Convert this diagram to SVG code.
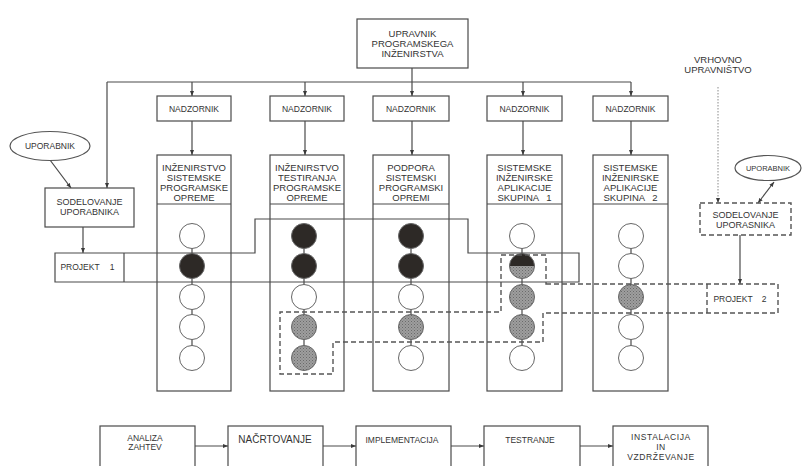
<svg xmlns="http://www.w3.org/2000/svg" width="803" height="466" viewBox="0 0 803 466">
  <defs>
    <marker id="ah" viewBox="0 0 10 10" refX="10" refY="5" markerWidth="5" markerHeight="5" orient="auto-start-reverse" markerUnits="userSpaceOnUse">
      <path d="M0,1 L10,5 L0,9 z" fill="#3a3a3a"/>
    </marker>
    <pattern id="stip" width="3" height="3" patternUnits="userSpaceOnUse">
      <rect width="3" height="3" fill="#9e9e9e"/>
      <rect x="0" y="0" width="1" height="1" fill="#6a6a6a"/>
      <rect x="1.5" y="1.5" width="1" height="1" fill="#787878"/>
    </pattern>
    <style>
      .box { fill: #fff; stroke: #4a4a4a; stroke-width: 1.2; }
      .ln { fill: none; stroke: #4a4a4a; stroke-width: 1.2; }
      .dash { fill: none; stroke: #555; stroke-width: 1.4; stroke-dasharray: 5 3; }
      .dot { fill: none; stroke: #8a8a8a; stroke-width: 1; stroke-dasharray: 1.5 1.5; }
      .arr { marker-end: url(#ah); }
      .t { font-family: "Liberation Sans", "DejaVu Sans", sans-serif; fill: #333; text-anchor: middle; }
      .h { font-size: 9.5px; }
      .s { font-size: 8.5px; }
      .c { stroke: #666; stroke-width: 1; }
      .w { fill: #fff; }
      .k { fill: #2d2926; }
      .g { fill: url(#stip); }
    </style>
  </defs>

  <rect width="803" height="466" fill="#fff"/>

  <!-- connectors -->
  <g id="connectors">
    <path class="ln" d="M107,82 H631"/>
    <path class="ln arr" d="M412,68 V96"/>
    <path class="ln arr" d="M192,82 V96"/>
    <path class="ln arr" d="M305,82 V96"/>
    <path class="ln arr" d="M523,82 V96"/>
    <path class="ln arr" d="M631,82 V96"/>
    <path class="ln arr" d="M107,82 V188"/>
    <path class="ln arr" d="M192,121 V155"/>
    <path class="ln arr" d="M305,121 V155"/>
    <path class="ln arr" d="M412,121 V155"/>
    <path class="ln arr" d="M523,121 V155"/>
    <path class="ln arr" d="M631,121 V155"/>
    <path class="ln arr" d="M50,160 L71,188"/>
    <path class="ln arr" d="M83,227 V253"/>
    <path class="dot arr" d="M718,87 V203"/>
    <path class="ln arr" d="M774,182 L758,203" style="marker-start:url(#ah)"/>
    <path class="ln arr" d="M740,235 V284"/>
    <path class="ln arr" d="M195,446 H228"/>
    <path class="ln arr" d="M323,446 H356"/>
    <path class="ln arr" d="M451,446 H484"/>
    <path class="ln arr" d="M580,446 H613"/>
  </g>

  <!-- head of software engineering -->
  <g id="upravnik">
    <rect class="box" x="357" y="19" width="111" height="49"/>
    <text class="t h" x="412.5" y="36.5">UPRAVNIK</text>
    <text class="t h" x="412.5" y="46.5">PROGRAMSKEGA</text>
    <text class="t h" x="412.5" y="56.5">INŽENIRSTVA</text>
  </g>

  <!-- supervisors -->
  <g id="nadzornik-1"><rect class="box" x="157" y="96" width="74" height="25"/><text class="t s" x="194" y="111.5">NADZORNIK</text></g>
  <g id="nadzornik-2"><rect class="box" x="270" y="96" width="74" height="25"/><text class="t s" x="307" y="111.5">NADZORNIK</text></g>
  <g id="nadzornik-3"><rect class="box" x="373" y="96" width="76" height="25"/><text class="t s" x="411" y="111.5">NADZORNIK</text></g>
  <g id="nadzornik-4"><rect class="box" x="487" y="96" width="75" height="25"/><text class="t s" x="524.5" y="111.5">NADZORNIK</text></g>
  <g id="nadzornik-5"><rect class="box" x="593" y="96" width="75" height="25"/><text class="t s" x="630.5" y="111.5">NADZORNIK</text></g>

  <!-- departments -->
  <g id="oddelek-1">
    <rect class="box" x="157" y="155" width="74" height="236"/>
    <path class="ln" d="M157,204 H231"/>
    <text class="t h" x="194" y="171">INŽENIRSTVO</text>
    <text class="t h" x="194" y="181">SISTEMSKE</text>
    <text class="t h" x="194" y="191">PROGRAMSKE</text>
    <text class="t h" x="194" y="201">OPREME</text>
    <path class="ln" d="M192,236 V358"/>
    <circle class="c w" cx="192" cy="236" r="12.5"/>
    <circle class="c k" cx="192" cy="266" r="12.5"/>
    <circle class="c w" cx="192" cy="297" r="12.5"/>
    <circle class="c w" cx="192" cy="327" r="12.5"/>
    <circle class="c w" cx="192" cy="358" r="12.5"/>
  </g>
  <g id="oddelek-2">
    <rect class="box" x="270" y="155" width="74" height="236"/>
    <path class="ln" d="M270,204 H344"/>
    <text class="t h" x="307" y="171">INŽENIRSTVO</text>
    <text class="t h" x="307" y="181">TESTIRANJA</text>
    <text class="t h" x="307" y="191">PROGRAMSKE</text>
    <text class="t h" x="307" y="201">OPREME</text>
    <path class="ln" d="M304,236 V358"/>
    <circle class="c k" cx="304" cy="236" r="12.5"/>
    <circle class="c k" cx="304" cy="266" r="12.5"/>
    <circle class="c w" cx="304" cy="297" r="12.5"/>
    <circle class="c g" cx="304" cy="327" r="12.5"/>
    <circle class="c g" cx="304" cy="358" r="12.5"/>
  </g>
  <g id="oddelek-3">
    <rect class="box" x="373" y="155" width="76" height="236"/>
    <path class="ln" d="M373,204 H449"/>
    <text class="t h" x="411" y="171">PODPORA</text>
    <text class="t h" x="411" y="181">SISTEMSKI</text>
    <text class="t h" x="411" y="191">PROGRAMSKI</text>
    <text class="t h" x="411" y="201">OPREMI</text>
    <path class="ln" d="M411,236 V358"/>
    <circle class="c k" cx="411" cy="236" r="12.5"/>
    <circle class="c k" cx="411" cy="266" r="12.5"/>
    <circle class="c w" cx="411" cy="297" r="12.5"/>
    <circle class="c g" cx="411" cy="327" r="12.5"/>
    <circle class="c w" cx="411" cy="358" r="12.5"/>
  </g>
  <g id="oddelek-4">
    <rect class="box" x="487" y="155" width="75" height="236"/>
    <path class="ln" d="M487,204 H562"/>
    <text class="t h" x="524.5" y="171">SISTEMSKE</text>
    <text class="t h" x="524.5" y="181">INŽENIRSKE</text>
    <text class="t h" x="524.5" y="191">APLIKACIJE</text>
    <text class="t h" x="524.5" y="201" style="word-spacing:5px">SKUPINA 1</text>
    <path class="ln" d="M522,236 V358"/>
    <circle class="c w" cx="522" cy="236" r="12.5"/>
    <path class="g" d="M509.5,266 A12.5,12.5 0 0 0 534.5,266 Z"/>
    <path class="k" d="M509.5,266 A12.5,12.5 0 0 1 534.5,266 Z"/>
    <circle class="c" fill="none" cx="522" cy="266" r="12.5"/>
    <circle class="c g" cx="522" cy="297" r="12.5"/>
    <circle class="c g" cx="522" cy="327" r="12.5"/>
    <circle class="c w" cx="522" cy="358" r="12.5"/>
  </g>
  <g id="oddelek-5">
    <rect class="box" x="593" y="155" width="75" height="236"/>
    <path class="ln" d="M593,204 H668"/>
    <text class="t h" x="630.5" y="171">SISTEMSKE</text>
    <text class="t h" x="630.5" y="181">INŽENIRSKE</text>
    <text class="t h" x="630.5" y="191">APLIKACIJE</text>
    <text class="t h" x="630.5" y="201" style="word-spacing:5px">SKUPINA 2</text>
    <path class="ln" d="M631,236 V358"/>
    <circle class="c w" cx="631" cy="236" r="12.5"/>
    <circle class="c w" cx="631" cy="266" r="12.5"/>
    <circle class="c g" cx="631" cy="297" r="12.5"/>
    <circle class="c w" cx="631" cy="327" r="12.5"/>
    <circle class="c w" cx="631" cy="358" r="12.5"/>
  </g>

  <!-- users, left -->
  <g id="uporabnik-1">
    <ellipse cx="50" cy="146" rx="40" ry="14.5" fill="#fff" stroke="#555" stroke-width="1.2"/>
    <text class="t s" x="50" y="149">UPORABNIK</text>
  </g>
  <g id="sodelovanje-1">
    <rect class="box" x="45" y="188" width="89" height="39"/>
    <text class="t" font-size="9" x="89.5" y="205">SODELOVANJE</text>
    <text class="t" font-size="9" x="89.5" y="215">UPORABNIKA</text>
  </g>

  <!-- project 1 -->
  <g id="projekt-1">
    <path class="ln" d="M55,253 H255 V219 H468 V253 H579 V282 H55 Z"/>
    <path class="ln" d="M124,253 V282"/>
    <text class="t s" x="80" y="270">PROJEKT</text>
    <text class="t s" x="112" y="270">1</text>
  </g>

  <!-- top management and users, right -->
  <g id="vrhovno">
    <text class="t h" x="718" y="63">VRHOVNO</text>
    <text class="t h" x="718" y="73">UPRAVNIŠTVO</text>
  </g>
  <g id="uporabnik-2">
    <ellipse cx="768" cy="168" rx="33" ry="12.5" fill="#fff" stroke="#555" stroke-width="1.2"/>
    <text class="t" font-size="7.5" x="768" y="171">UPORABNIK</text>
  </g>
  <g id="sodelovanje-2">
    <rect class="dash" x="700" y="203" width="91" height="32"/>
    <text class="t" font-size="9" x="745.5" y="218">SODELOVANJE</text>
    <text class="t" font-size="9" x="745.5" y="228">UPORASNIKA</text>
  </g>

  <!-- project 2 -->
  <g id="projekt-2">
    <path class="dash" d="M546,284 H778 V313 H543 V342 H333 V374 H280 V312 H501 V255 H546 Z"/>
    <path class="dash" d="M707,284 V313"/>
    <text class="t s" x="733" y="302">PROJEKT</text>
    <text class="t s" x="764" y="302">2</text>
  </g>

  <!-- development phases -->
  <g id="analiza">
    <rect class="box" x="100" y="426" width="95" height="60"/>
    <text class="t" font-size="8.5" x="145" y="441">ANALIZA</text>
    <text class="t" font-size="8.5" x="145" y="450">ZAHTEV</text>
  </g>
  <g id="nacrtovanje">
    <rect class="box" x="228" y="426" width="95" height="60"/>
    <text class="t" font-size="10" x="275" y="443">NAČRTOVANJE</text>
  </g>
  <g id="implementacija">
    <rect class="box" x="356" y="426" width="95" height="60"/>
    <text class="t" font-size="8.5" x="402" y="443">IMPLEMENTACIJA</text>
  </g>
  <g id="testiranje">
    <rect class="box" x="484" y="426" width="96" height="60"/>
    <text class="t" font-size="8.5" x="530" y="443">TESTRANJE</text>
  </g>
  <g id="instalacija">
    <rect class="box" x="613" y="426" width="95" height="60"/>
    <text class="t" font-size="8.5" letter-spacing="0.6" x="661" y="440">INSTALACIJA</text>
    <text class="t" font-size="8.5" letter-spacing="0.6" x="661" y="450">IN</text>
    <text class="t" font-size="8.5" letter-spacing="0.6" x="661" y="460">VZDRŽEVANJE</text>
  </g>
</svg>
